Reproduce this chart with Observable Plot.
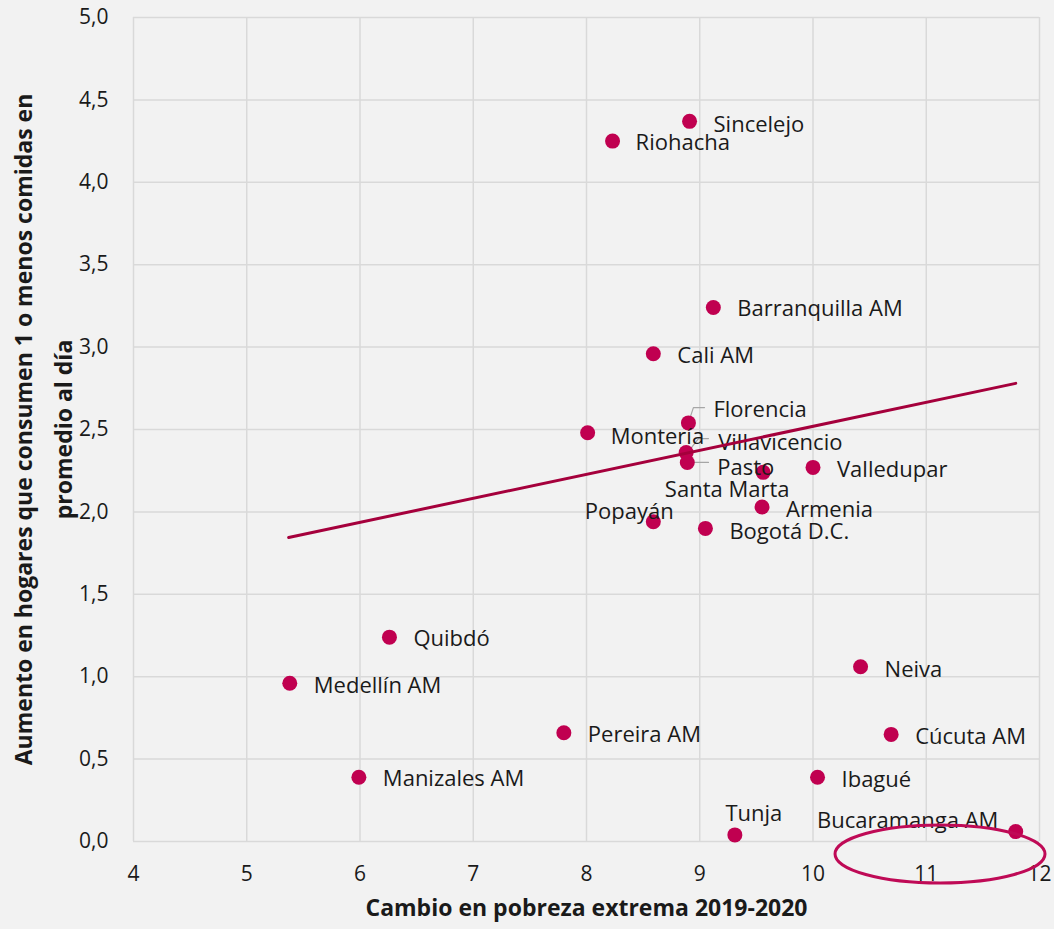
<!DOCTYPE html>
<html><head><meta charset="utf-8">
<script src="https://cdn.jsdelivr.net/npm/d3@7"></script>
<script src="https://cdn.jsdelivr.net/npm/@observablehq/plot@0.6"></script>
<style>
html,body{margin:0;padding:0;background:#f2f2f2;}
#chart svg{display:block;}
</style></head><body><div id="chart"></div>
<script>
// ---- data ----
const cities = ["Sincelejo","Riohacha","Barranquilla AM","Cali AM","Florencia","Montería","Villavicencio","Pasto","Santa Marta","Valledupar","Armenia","Popayán","Bogotá D.C.","Quibdó","Medellín AM","Neiva","Pereira AM","Cúcuta AM","Manizales AM","Ibagué","Tunja","Bucaramanga AM"];
const pobrezaExtrema = [8.91,8.23,9.12,8.59,8.90,8.01,8.88,8.89,9.56,10.00,9.55,8.59,9.05,6.26,5.38,10.42,7.80,10.69,5.99,10.04,9.31,11.79];
const aumentoComidas = [4.37,4.25,3.24,2.96,2.54,2.48,2.36,2.30,2.24,2.27,2.03,1.94,1.90,1.24,0.96,1.06,0.66,0.65,0.39,0.39,0.04,0.06];
const xTicks = [4,5,6,7,8,9,10,11,12];
const yTicks = [0,0.5,1,1.5,2,2.5,3,3.5,4,4.5,5];
const trendX = [5.37, 11.79];
const trendY = [1.845, 2.78];
const xTitle = "Cambio en pobreza extrema 2019-2020";
const yTitle1 = "Aumento en hogares que consumen 1 o menos comidas en";
const yTitle2 = "promedio al día";

// ---- layout of annotations (not data) ----
const labelPlacement = {
  "Sincelejo":["start",24,4], "Riohacha":["start",23,2], "Barranquilla AM":["start",24,1],
  "Cali AM":["start",24,2], "Florencia":["start",25,-13], "Montería":["start",23,4],
  "Villavicencio":["start",32,-10], "Pasto":["start",30,5], "Santa Marta":["middle",-36,18],
  "Valledupar":["start",24,3], "Armenia":["start",24,3], "Popayán":["middle",-24,-10],
  "Bogotá D.C.":["start",24,4], "Quibdó":["start",24,2], "Medellín AM":["start",24,3],
  "Neiva":["start",24,3], "Pereira AM":["start",24,2], "Cúcuta AM":["start",24,3],
  "Manizales AM":["start",24,2], "Ibagué":["start",24,3], "Tunja":["middle",19,-21],
  "Bucaramanga AM":["middle",-108,-11]
};
const leaders = [
  {g:"Florencia", x:8.90, y:2.542}, {g:"Florencia", x:8.944, y:2.633}, {g:"Florencia", x:9.042, y:2.633},
  {g:"Villavicencio", x:8.892, y:2.36}, {g:"Villavicencio", x:8.989, y:2.445}, {g:"Villavicencio", x:9.077, y:2.445},
  {g:"Pasto", x:8.918, y:2.30}, {g:"Pasto", x:9.077, y:2.30}
];
const highlight = {cx: 11.126, cy: -0.079, rx: 0.927, ry: 0.176};

const rows = cities.map((c,i)=>({city:c, x:pobrezaExtrema[i], y:aumentoComidas[i]}));
const trend = trendX.map((x,i)=>({x, y:trendY[i]}));

const labelMarks = rows.map(r => {
  const [a,dx,dy] = labelPlacement[r.city];
  return Plot.text([r], {x:"x", y:"y", text:"city", textAnchor:a, dx, dy, fill:"#1a1a1a", fontSize:22});
});

const ellipseMark = (index, scales) => {
  const e = document.createElementNS("http://www.w3.org/2000/svg","ellipse");
  const cx = scales.x(highlight.cx), cy = scales.y(highlight.cy);
  e.setAttribute("cx", cx); e.setAttribute("cy", cy);
  e.setAttribute("rx", Math.abs(scales.x(highlight.cx+highlight.rx)-cx));
  e.setAttribute("ry", Math.abs(scales.y(highlight.cy+highlight.ry)-cy));
  e.setAttribute("fill","none"); e.setAttribute("stroke","#bf0a56"); e.setAttribute("stroke-width","3");
  return e;
};

const chart = Plot.plot({
  width:1054, height:929,
  marginLeft:133, marginRight:15, marginTop:17, marginBottom:88,
  style:{background:"#f2f2f2", fontFamily:"'Open Sans', sans-serif", fontSize:"21px", color:"#1a1a1a"},
  x:{domain:[4,12], ticks:xTicks, tickSize:0, tickPadding:25, label:null, tickFormat:d=>String(d)},
  y:{domain:[0,5], ticks:yTicks, tickSize:0, tickPadding:25, label:null, tickFormat:d=>d.toFixed(1).replace(".",",")},
  marks:[
    Plot.gridX(xTicks, {stroke:"#d9d9d9", strokeOpacity:1, strokeWidth:1.5}),
    Plot.gridY(yTicks, {stroke:"#d9d9d9", strokeOpacity:1, strokeWidth:1.5}),
    Plot.line(leaders, {x:"x", y:"y", z:"g", stroke:"#a6a6a6", strokeWidth:1.2}),
    Plot.dot(rows, {x:"x", y:"y", r:7.5, fill:"#c00050", stroke:"none"}),
    ...labelMarks,
    Plot.line(trend, {x:"x", y:"y", stroke:"#a5003c", strokeWidth:3}),
    ellipseMark,
    Plot.text([xTitle], {frameAnchor:"bottom", dy:74, fontWeight:"bold", fontSize:23, fill:"#1a1a1a"}),
    Plot.text([yTitle1], {frameAnchor:"left", textAnchor:"middle", dx:-109, rotate:-90, fontWeight:"bold", fontSize:23, fill:"#1a1a1a"}),
    Plot.text([yTitle2], {frameAnchor:"left", textAnchor:"middle", dx:-69, rotate:-90, fontWeight:"bold", fontSize:23, fill:"#1a1a1a"})
  ]
});
document.getElementById("chart").appendChild(chart);
</script></body></html>
